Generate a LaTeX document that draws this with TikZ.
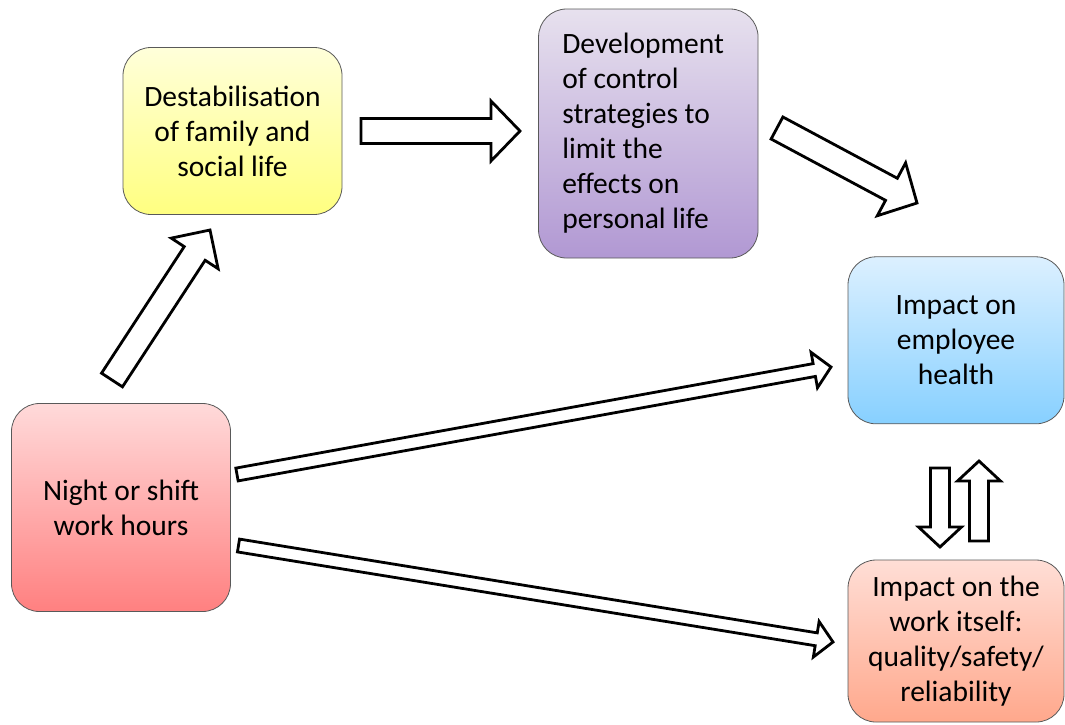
\documentclass[tikz,border=0pt]{standalone}
\usepackage{fontspec}
\setmainfont{Carlito}
\usetikzlibrary{calc}

\definecolor{yeltop}{RGB}{255,255,218}
\definecolor{yelbot}{RGB}{255,255,128}
\definecolor{purtop}{RGB}{231,225,238}
\definecolor{purbot}{RGB}{177,152,211}
\definecolor{blutop}{RGB}{220,240,255}
\definecolor{blubot}{RGB}{135,208,255}
\definecolor{redtop}{RGB}{255,218,218}
\definecolor{redbot}{RGB}{255,128,128}
\definecolor{saltop}{RGB}{255,222,214}
\definecolor{salbot}{RGB}{255,168,140}

% hollow block arrow: tail, tip, half shaft, half head, head length
\newcommand\hollowarrow[5]{%
  \coordinate (hb) at ($(#2)!#5!(#1)$);
  \draw[blockarrow] ($(#1)!#3!90:(#2)$) -- ($(hb)!#3!90:(#2)$) -- ($(hb)!#4!90:(#2)$) -- (#2)
    -- ($(hb)!#4!-90:(#2)$) -- ($(hb)!#3!-90:(#2)$) -- ($(#1)!#3!-90:(#2)$) -- cycle;
}

\tikzset{
  stage/.style={draw=black!65, line width=0.8pt, rounded corners=28pt, align=center,
    inner sep=0pt, font=\fontsize{29.5}{35}\selectfont},
  blockarrow/.style={draw=black, fill=white, line width=2.8pt, line join=miter},
}

\begin{document}
\begin{tikzpicture}[x=1pt, y=-1pt]
  \useasboundingbox (0,0) rectangle (1065,724);

  % boxes
  \node[stage, top color=redtop, bottom color=redbot, minimum width=219pt, minimum height=208pt]
    (night) at (121,507.5) {Night or shift\\work hours};
  \node[stage, top color=yeltop, bottom color=yelbot, minimum width=219pt, minimum height=167pt]
    (destab) at (232.5,131) {Destabilisation\\of family and\\social life};
  \node[stage, top color=purtop, bottom color=purbot, minimum width=219.5pt, minimum height=249pt,
    align=flush left, text width=172pt]
    (control) at (648.3,133.5) {Development\\of control\\strategies to\\limit the\\effects on\\personal life};
  \node[stage, top color=blutop, bottom color=blubot, minimum width=216pt, minimum height=167pt]
    (health) at (956,340.3) {Impact on\\employee\\health};
  \node[stage, top color=saltop, bottom color=salbot, minimum width=216pt, minimum height=162pt]
    (work) at (956,641) {Impact on the\\work itself:\\quality/safety/\\reliability};

  % arrow ends
  \coordinate (nd-s) at (112,380);   \coordinate (nd-e) at (210,230);
  \coordinate (dc-s) at (361,131);   \coordinate (dc-e) at (520,131);
  \coordinate (ch-s) at (777,128);   \coordinate (ch-e) at (917,203);
  \coordinate (nh-s) at (237,474.5); \coordinate (nh-e) at (831,367);
  \coordinate (nw-s) at (238.5,545.5); \coordinate (nw-e) at (833,642);
  \coordinate (hw-s) at (940,468);   \coordinate (hw-e) at (940,547);
  \coordinate (wh-s) at (979,541);   \coordinate (wh-e) at (979,461);

  \hollowarrow{nd-s}{nd-e}{12.5pt}{28pt}{28pt}
  \hollowarrow{dc-s}{dc-e}{12.5pt}{30pt}{29pt}
  \hollowarrow{ch-s}{ch-e}{12.5pt}{30pt}{29pt}
  \hollowarrow{nh-s}{nh-e}{6.5pt}{18pt}{17pt}
  \hollowarrow{nw-s}{nw-e}{6.5pt}{18pt}{17pt}
  \hollowarrow{hw-s}{hw-e}{9.5pt}{21.5pt}{20pt}
  \hollowarrow{wh-s}{wh-e}{9.5pt}{21.5pt}{20pt}
\end{tikzpicture}
\end{document}
